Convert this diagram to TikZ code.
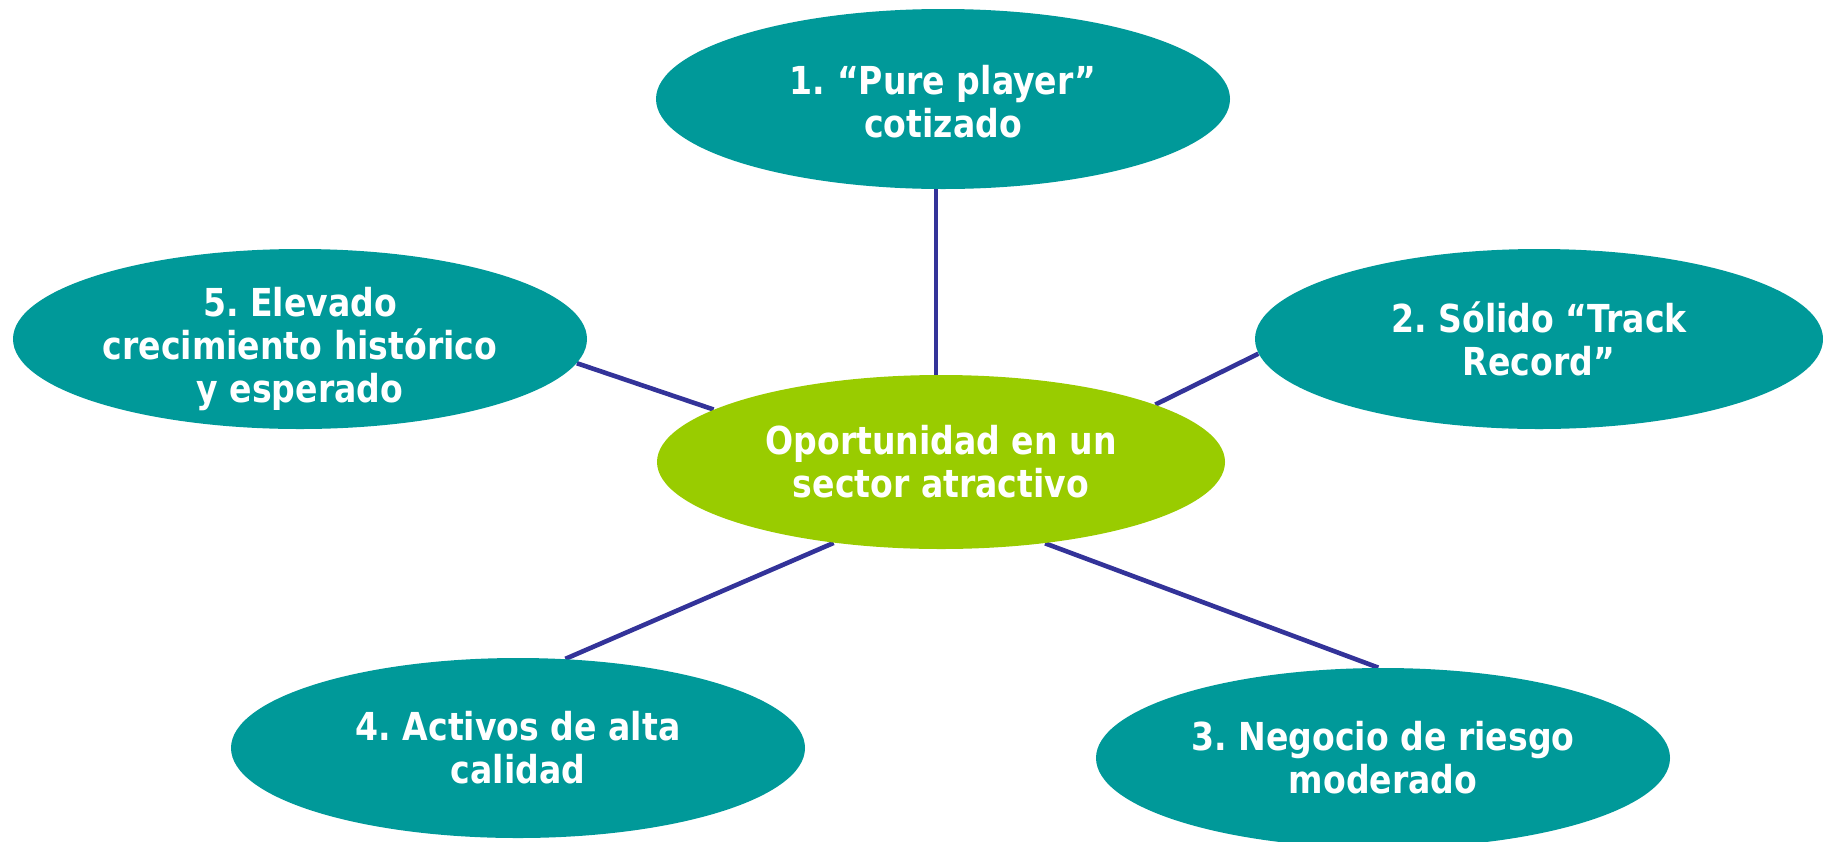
\documentclass[tikz,border=0pt]{standalone}
\usepackage{fontspec}
\setmainfont{DejaVu Sans}[FakeStretch=0.86]
\usetikzlibrary{shapes.geometric}
\definecolor{tealc}{HTML}{009999}
\definecolor{greenc}{HTML}{99CC00}
\definecolor{linec}{HTML}{333399}
\pgfdeclarelayer{background}
\pgfsetlayers{background,main}
\begin{document}
\frenchspacing
\begin{tikzpicture}[x=0.5pt,y=-0.5pt,
  bubble/.style={ellipse,fill=tealc,draw=none,inner sep=0pt,
    minimum width=287pt,minimum height=90pt,text=white,align=center,
    font={\fontsize{19.25}{21.5}\bfseries\selectfont}},
  hub/.style={bubble,fill=greenc,minimum width=284pt,minimum height=87pt},
  txt/.style={text=white,align=center,inner sep=0pt,
    font={\fontsize{19.25}{21.5}\bfseries\selectfont}},
  link/.style={draw=linec,line width=2.3pt}]
\useasboundingbox (0,0) rectangle (1823,841);
\node[hub] (c) at (941,462) {Oportunidad en un\\sector atractivo};
\node[bubble] (n1) at (943,99) {};
\node[txt] (t1) at ([yshift=-1.5pt]n1.center) {1. “Pure player”\\cotizado};
\node[bubble,minimum width=284pt] (n2) at (1539,339) {2. Sólido “Track\\Record”};
\node[bubble] (n3) at (1383,758) {3. Negocio de riesgo\\moderado};
\node[bubble] (n4) at (518,748) {4. Activos de alta\\calidad};
\node[bubble] (n5) at (300,339) {};
\node[txt] (t5) at ([yshift=-5pt]n5.center) {5. Elevado\\crecimiento histórico\\y esperado};
\begin{pgfonlayer}{background}
\draw[link] ([xshift=-3.5pt]n1.south) -- ([xshift=-2.5pt]c.north);
\draw[link] (c.15.8) -- (n2.183.7);
\draw[link] (c.167.9) -- (n5.-5.3);
\draw[link] (c.217) -- (n4.62);
\draw[link] (c.-38.4) -- (n3.93);
\end{pgfonlayer}
\end{tikzpicture}
\end{document}
